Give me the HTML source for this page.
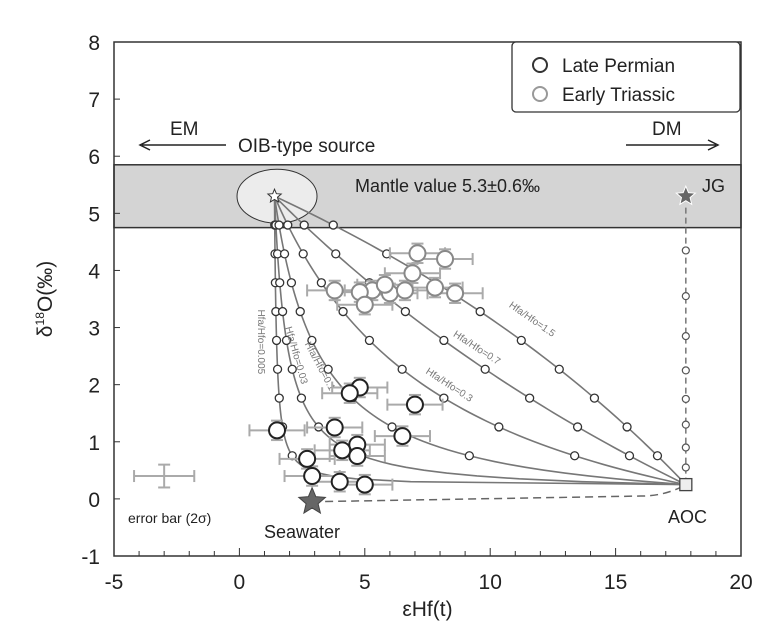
<!DOCTYPE html>
<html><head><meta charset="utf-8"><style>
html,body{margin:0;padding:0;background:#fff;}
svg{display:block;font-family:"Liberation Sans",Arial,sans-serif;}
</style></head><body>
<svg id="chart" width="776" height="642" viewBox="0 0 776 642">
</svg>
<script>
// ---- data ----
const xTicks = [-5, 0, 5, 10, 15, 20];
const yTicks = [-1, 0, 1, 2, 3, 4, 5, 6, 7, 8];
const mixRatios = [0.005, 0.03, 0.1, 0.3, 0.7, 1.5];
const mixLabels = ["Hfa/Hfo=0.005","Hfa/Hfo=0.03","Hfa/Hfo=0.1","Hfa/Hfo=0.3","Hfa/Hfo=0.7","Hfa/Hfo=1.5"];
const mixFractions = [0.1,0.2,0.3,0.4,0.5,0.6,0.7,0.8,0.9];
const mantleEnd = [1.4, 5.3];
const aocEnd = [17.8, 0.25];
const seawater = [2.9, -0.05];
const jgDashY = [4.35, 3.55, 2.85, 2.25, 1.75, 1.3, 0.9, 0.55];
const triassicX = [7.1, 8.2, 6.9, 3.8, 5.3, 6.0, 6.6, 7.8, 8.6, 4.8, 5.0, 5.8];
const triassicY = [4.3, 4.2, 3.95, 3.65, 3.65, 3.6, 3.65, 3.7, 3.6, 3.62, 3.4, 3.75];
const permianX = [4.8, 4.4, 7.0, 1.5, 3.8, 6.5, 4.7, 4.1, 4.7, 2.7, 2.9, 4.0, 5.0];
const permianY = [1.95, 1.85, 1.65, 1.2, 1.25, 1.1, 0.95, 0.85, 0.75, 0.7, 0.4, 0.3, 0.25];

// ---- axes ----
const X0 = 114, X1 = 741, Y0 = 556, Y1 = 42;
const sx = v => X0 + (v + 5) / 25 * (X1 - X0);
const sy = v => Y0 - (v + 1) / 9 * (Y0 - Y1);
const svg = document.getElementById('chart');
const NS = 'http://www.w3.org/2000/svg';
function mk(tag, attrs, parent) {
  const e = document.createElementNS(NS, tag);
  for (const k in attrs) e.setAttribute(k, attrs[k]);
  (parent || svg).appendChild(e);
  return e;
}
function txt(s, attrs) { const t = mk('text', attrs); t.textContent = s; return t; }

let el = mk('rect', {x: X0, y: sy(5.85), width: X1 - X0, height: sy(4.75) - sy(5.85), fill: '#d4d4d4', stroke: '#333', 'stroke-width': 1.5});


el = mk('ellipse', {cx: sx(1.5), cy: sy(5.3), rx: 40, ry: 27, fill: '#ececec', stroke: '#333', 'stroke-width': 1});



el = mk('rect', {x: X0, y: Y1, width: X1 - X0, height: Y0 - Y1, fill: 'none', stroke: '#333', 'stroke-width': 1.5});



xTicks.forEach(v => {
  const t = txt(String(v), {x: sx(v), y: Y0 + 33, 'text-anchor': 'middle', 'font-size': 21, fill: '#222'});
  
  
});
for (let v = -5; v <= 20; v++) {
  const l = mk('line', {x1: sx(v), x2: sx(v), y1: Y0, y2: Y0 - (v % 5 === 0 ? 8 : 5), stroke: '#333'});
  
  
}
yTicks.forEach(v => {
  const t = txt(String(v), {x: X0 - 14, y: sy(v) + 8, 'text-anchor': 'end', 'font-size': 21, fill: '#222'});
  
  
  const l = mk('line', {x1: X0, x2: X0 + 6, y1: sy(v), y2: sy(v), stroke: '#333'});
  
  
});
el = txt('εHf(t)', {x: sx(7.5), y: 616, 'text-anchor': 'middle', 'font-size': 21, fill: '#222'});


el = txt('', {transform: 'translate(52,' + sy(3.5) + ') rotate(-90)', 'text-anchor': 'middle', 'font-size': 21, fill: '#222'});
el.innerHTML = 'δ<tspan font-size="12" dy="-8">18</tspan><tspan dy="8">O(‰)</tspan>';



function mix(r, f) {
  const x = (f * r * aocEnd[0] + (1 - f) * mantleEnd[0]) / (f * r + 1 - f);
  const y = mantleEnd[1] + f * (aocEnd[1] - mantleEnd[1]);
  return [x, y];
}
mixRatios.forEach((r, i) => {
  const pts = [];
  for (let k = 0; k <= 100; k++) { const p = mix(r, k / 100); pts.push(sx(p[0]) + ',' + sy(p[1])); }
  const pl = mk('polyline', {points: pts.join(' '), fill: 'none', stroke: '#777', 'stroke-width': 1.6});
  
  
  mixFractions.forEach(f => {
    const p = mix(r, f);
    const c = mk('circle', {cx: sx(p[0]), cy: sy(p[1]), r: 4, fill: '#fff', stroke: '#333', 'stroke-width': 1.3});
    
    
  });
});
const labPos = [[0.75, 2.75, 90], [2.15, 2.5, 74], [3.1, 2.3, 62], [8.3, 1.95, 33], [9.4, 2.6, 33], [11.6, 3.1, 35]];
mixLabels.forEach((s, i) => {
  const p = labPos[i];
  const t = txt(s, {x: 0, y: 0, transform: 'translate(' + sx(p[0]) + ',' + sy(p[1]) + ') rotate(' + p[2] + ')', 'text-anchor': 'middle', 'font-size': 10, fill: '#777'});
  
  
});

el = mk('line', {x1: sx(aocEnd[0]), x2: sx(aocEnd[0]), y1: sy(5.1), y2: sy(aocEnd[1]), stroke: '#777', 'stroke-width': 1.5, 'stroke-dasharray': '6,4'});


jgDashY.forEach(v => {
  const c = mk('circle', {cx: sx(aocEnd[0]), cy: sy(v), r: 3.5, fill: '#fff', stroke: '#555', 'stroke-width': 1.2});
  
  
});
el = mk('path', {d: 'M' + sx(seawater[0]) + ',' + sy(seawater[1]) + ' L' + sx(16) + ',' + sy(0.05) + ' Q' + sx(17) + ',' + sy(0.05) + ' ' + sx(aocEnd[0]) + ',' + sy(aocEnd[1]), fill: 'none', stroke: '#666', 'stroke-width': 1.5, 'stroke-dasharray': '8,5'});



function star(cx, cy, R, fill, stroke, name) {
  const p = [];
  for (let k = 0; k < 10; k++) {
    const a = -Math.PI / 2 + k * Math.PI / 5, rr = k % 2 ? R * 0.45 : R;
    p.push((cx + rr * Math.cos(a)).toFixed(1) + ',' + (cy + rr * Math.sin(a)).toFixed(1));
  }
  const s = mk('polygon', {points: p.join(' '), fill: fill, stroke: stroke, 'stroke-width': 1});
  
  
}
star(sx(seawater[0]), sy(seawater[1]), 14, '#666', '#444', 'seawater-star');
star(sx(aocEnd[0]), sy(5.3), 10, '#666', '#fff', 'jg-star');
star(sx(mantleEnd[0]), sy(mantleEnd[1]), 7, '#fff', '#333', 'mantle-star');
el = mk('rect', {x: sx(aocEnd[0]) - 6, y: sy(aocEnd[1]) - 6, width: 12, height: 12, fill: '#eee', stroke: '#444', 'stroke-width': 1.3});



function dataPts(xs, ys, stroke, name) {
  xs.forEach((x, i) => {
    const cx = sx(x), cy = sy(ys[i]);
    const g = mk('g', {stroke: '#aaa', 'stroke-width': 2});
    
    
    mk('line', {x1: sx(x - 1.1), x2: sx(x + 1.1), y1: cy, y2: cy}, g);
    mk('line', {x1: cx, x2: cx, y1: sy(ys[i] + 0.17), y2: sy(ys[i] - 0.17)}, g);
    mk('line', {x1: sx(x - 1.1), x2: sx(x - 1.1), y1: cy - 6, y2: cy + 6}, g);
    mk('line', {x1: sx(x + 1.1), x2: sx(x + 1.1), y1: cy - 6, y2: cy + 6}, g);
    mk('line', {x1: cx - 6, x2: cx + 6, y1: sy(ys[i] + 0.17), y2: sy(ys[i] + 0.17)}, g);
    mk('line', {x1: cx - 6, x2: cx + 6, y1: sy(ys[i] - 0.17), y2: sy(ys[i] - 0.17)}, g);
  });
  xs.forEach((x, i) => {
    const c = mk('circle', {cx: sx(x), cy: sy(ys[i]), r: 8, fill: '#fff', stroke: stroke, 'stroke-width': 2});
    
    
  });
}
dataPts(triassicX, triassicY, '#888', 'early-triassic');
dataPts(permianX, permianY, '#222', 'late-permian');

el = mk('g', {stroke: '#aaa', 'stroke-width': 2});


mk('line', {x1: sx(-4.2), x2: sx(-1.8), y1: sy(0.4), y2: sy(0.4)}, el);
mk('line', {x1: sx(-3), x2: sx(-3), y1: sy(0.6), y2: sy(0.2)}, el);
mk('line', {x1: sx(-4.2), x2: sx(-4.2), y1: sy(0.4) - 6, y2: sy(0.4) + 6}, el);
mk('line', {x1: sx(-1.8), x2: sx(-1.8), y1: sy(0.4) - 6, y2: sy(0.4) + 6}, el);
mk('line', {x1: sx(-3) - 6, x2: sx(-3) + 6, y1: sy(0.6), y2: sy(0.6)}, el);
mk('line', {x1: sx(-3) - 6, x2: sx(-3) + 6, y1: sy(0.2), y2: sy(0.2)}, el);

[['error bar (2σ)', 128, 523, 14, 'start', 'error-bar-label'],
 ['Seawater', 264, 538, 18, 'start', 'seawater-label'],
 ['AOC', 668, 523, 18, 'start', 'aoc-label'],
 ['JG', 702, 192, 18, 'start', 'jg-label'],
 ['Mantle value 5.3±0.6‰', 355, 192, 18, 'start', 'mantle-value-label'],
 ['OIB-type source', 238, 152, 19, 'start', 'oib-label'],
 ['EM', 170, 135, 19, 'start', 'em-label'],
 ['DM', 652, 135, 19, 'start', 'dm-label']
].forEach(a => {
  const t = txt(a[0], {x: a[1], y: a[2], 'font-size': a[3], 'text-anchor': a[4], fill: '#222'});
  
  
});
el = mk('path', {d: 'M226,145 L142,145 M150,140 L140,145 L150,150', fill: 'none', stroke: '#222', 'stroke-width': 1.5});


el = mk('path', {d: 'M626,145 L716,145 M708,140 L718,145 L708,150', fill: 'none', stroke: '#222', 'stroke-width': 1.5});



const lg = mk('g', {});


mk('rect', {x: 512, y: 42, width: 228, height: 70, rx: 4, fill: '#fff', stroke: '#333', 'stroke-width': 1.3}, lg);
[['Late Permian', '#333', 72], ['Early Triassic', '#999', 101]].forEach(e => {
  const g = mk('g', {}, lg);
  
  
  mk('circle', {cx: 540, cy: e[2] - 7, r: 7, fill: '#fff', stroke: e[1], 'stroke-width': 2}, g);
  const t = mk('text', {x: 562, y: e[2], 'font-size': 19, fill: '#222'}, g);
  t.textContent = e[0];
});
</script>
</body></html>
